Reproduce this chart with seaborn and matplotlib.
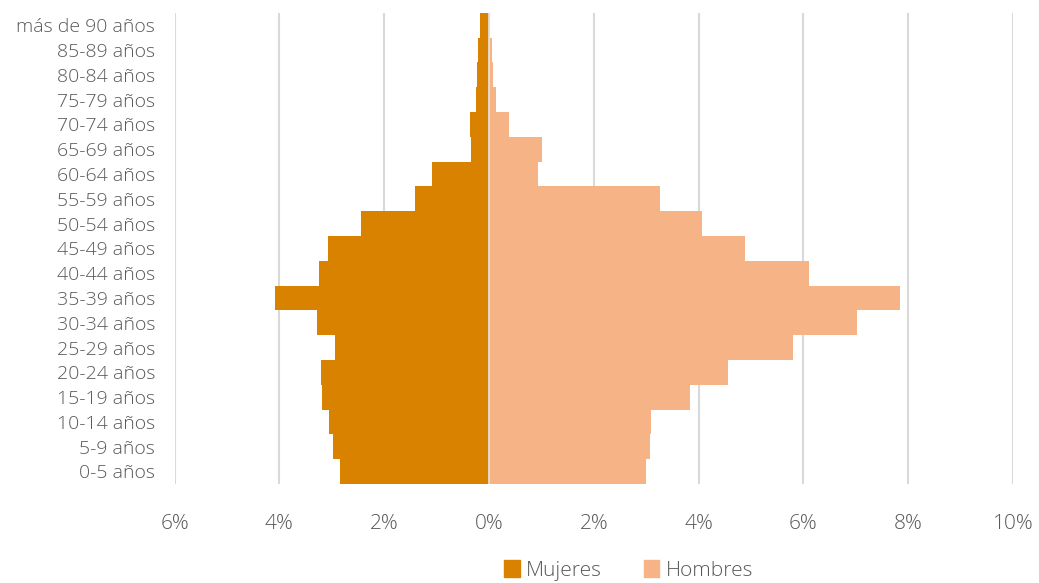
import numpy as np
import pandas as pd
import matplotlib.pyplot as plt
import seaborn as sns
from matplotlib.patches import Patch
from matplotlib.ticker import FuncFormatter

grupos = ["más de 90 años", "85-89 años", "80-84 años", "75-79 años", "70-74 años",
          "65-69 años", "60-64 años", "55-59 años", "50-54 años", "45-49 años",
          "40-44 años", "35-39 años", "30-34 años", "25-29 años", "20-24 años",
          "15-19 años", "10-14 años", "5-9 años", "0-5 años"]
mujeres = [0.18, 0.20, 0.23, 0.25, 0.36, 0.35, 1.09, 1.41, 2.45, 3.07,
           3.25, 4.09, 3.28, 2.94, 3.21, 3.19, 3.05, 2.98, 2.85]
hombres = [0.02, 0.05, 0.07, 0.14, 0.38, 1.01, 0.94, 3.26, 4.07, 4.88,
           6.10, 7.85, 7.02, 5.81, 4.57, 3.84, 3.10, 3.07, 3.00]

col_m = "#D98200"
col_h = "#F6B486"
gris = "#595959"

sns.set_style("white")
plt.rcParams['font.family'] = ['Open Sans', 'DejaVu Sans']

df = pd.DataFrame({"grupo": grupos,
                   "Mujeres": [-v for v in mujeres],
                   "Hombres": hombres})

fig = plt.figure(figsize=(10.39, 5.83), dpi=100)
ax = fig.add_axes([0.168, 0.170, 0.807, 0.808])

sns.barplot(data=df, x="Mujeres", y="grupo", order=grupos, color=col_m,
            width=1.0, orient="h", ax=ax, linewidth=0, saturation=1, zorder=2)
sns.barplot(data=df, x="Hombres", y="grupo", order=grupos, color=col_h,
            width=1.0, orient="h", ax=ax, linewidth=0, saturation=1, zorder=2)

ax.set_xlim(-6, 10)
ax.set_ylim(len(grupos) - 0.5, -0.5)
ax.set_xticks(np.arange(-6, 11, 2))
ax.xaxis.set_major_formatter(FuncFormatter(lambda v, p: f"{abs(v):.0f}%"))
ax.grid(axis="x", color="#D9D9D9", linewidth=1.5, zorder=0)
ax.set_axisbelow(True)
ax.axvline(0, color="#E6E6E6", linewidth=1.2, zorder=3)
for s in ax.spines.values():
    s.set_visible(False)
ax.set_xlabel("")
ax.set_ylabel("")
ax.tick_params(axis="x", labelsize=15, colors=gris, pad=22, length=0)
ax.tick_params(axis="y", labelsize=14, colors=gris, pad=14, length=0)
for lab in ax.get_xticklabels() + ax.get_yticklabels():
    lab.set_fontweight("light")

handles = [Patch(color=col_m, label="Mujeres"), Patch(color=col_h, label="Hombres")]
leg = fig.legend(handles=handles, loc="center", bbox_to_anchor=(0.605, 0.022), ncol=2,
                 frameon=False, fontsize=15, labelcolor=gris, handlelength=0.75,
                 handleheight=0.9, handletextpad=0.3, columnspacing=2.0)
for t in leg.get_texts():
    t.set_fontweight("light")

fig.savefig("out.png", dpi=100)
